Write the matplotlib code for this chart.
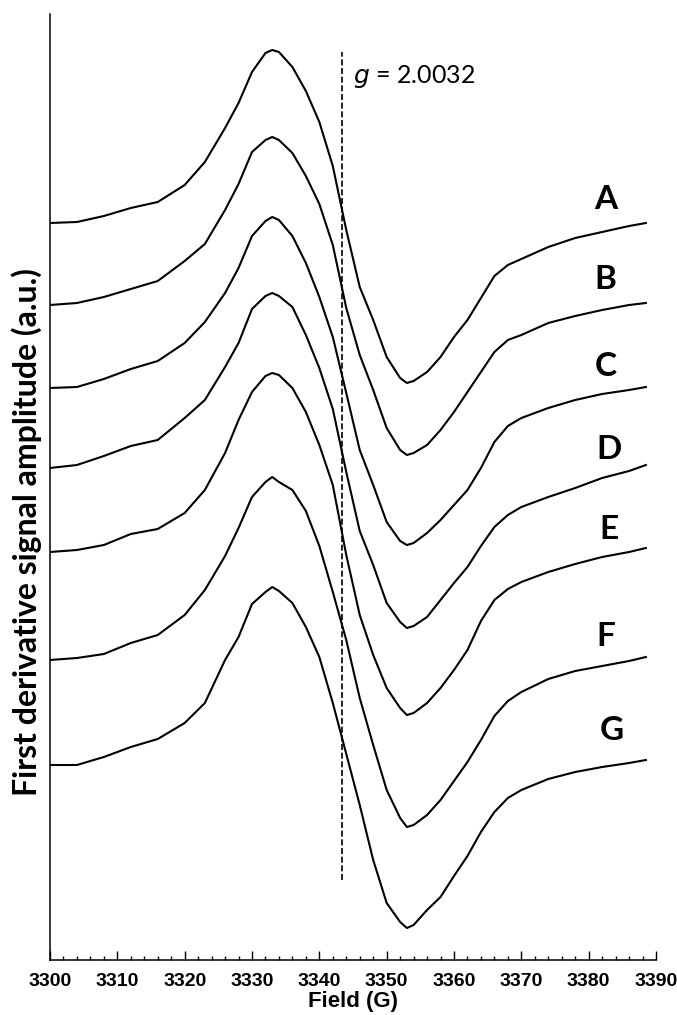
import matplotlib
matplotlib.use("Agg")
import matplotlib.pyplot as plt
from matplotlib.ticker import MultipleLocator

# ---- data (field in G, signal in a.u.) ----
field = [3300, 3304, 3308, 3312, 3316, 3320, 3323, 3326, 3328, 3330, 3332, 3333,
         3334, 3336, 3338, 3340, 3342, 3344, 3346, 3348, 3350, 3352, 3353, 3354,
         3356, 3358, 3360, 3362, 3364, 3366, 3368, 3370, 3374, 3378, 3382, 3386, 3388.5]

sig_A = [737, 738, 744, 752, 758, 775, 798, 832, 857, 888, 907, 910, 908, 893, 869, 838,
         794, 730, 673, 640, 603, 582, 577, 579, 588, 603, 623, 640, 662, 684, 695, 701,
         713, 722, 728, 734, 737]
sig_B = [655, 657, 663, 671, 679, 699, 716, 750, 776, 808, 820, 823, 820, 807, 784, 756,
         715, 652, 605, 570, 532, 510, 505, 507, 515, 530, 548, 568, 588, 608, 620, 625,
         637, 644, 650, 655, 657]
sig_C = [572, 573, 581, 591, 599, 617, 638, 667, 692, 724, 739, 743, 740, 724, 697, 663,
         623, 567, 510, 475, 438, 419, 415, 417, 427, 440, 455, 470, 492, 518, 534, 542,
         552, 560, 566, 570, 573]
sig_D = [492, 495, 504, 514, 520, 542, 560, 593, 617, 651, 664, 667, 664, 653, 625, 592,
         551, 488, 429, 395, 357, 338, 332, 334, 343, 360, 377, 393, 414, 433, 445, 453,
         463, 472, 482, 489, 495]
sig_E = [408, 410, 415, 426, 431, 447, 470, 507, 540, 568, 584, 587, 585, 572, 548, 515,
         475, 405, 345, 305, 272, 252, 245, 247, 257, 272, 290, 310, 339, 360, 371, 378,
         388, 396, 403, 408, 412]
sig_F = [300, 302, 306, 317, 325, 345, 370, 404, 432, 463, 478, 483, 478, 470, 449, 414,
         368, 320, 262, 215, 170, 142, 133, 135, 145, 160, 179, 198, 220, 244, 259, 268,
         281, 289, 294, 299, 303]
sig_G = [195, 195, 203, 213, 221, 237, 257, 300, 323, 356, 368, 373, 369, 357, 333, 303,
         257, 206, 155, 100, 57, 38, 32, 35, 50, 63, 84, 104, 128, 148, 162, 170,
         181, 188, 193, 197, 200]

series_names = ["A", "B", "C", "D", "E", "F", "G"]
label_field = [3382.5, 3382.5, 3382.5, 3383, 3383, 3382.5, 3383.5]
label_signal = [760, 680, 593, 510, 430, 323, 230]

g_field = 3343.4
g_text = "2.0032"
x_ticks = list(range(3300, 3391, 10))

# ---- figure ----
fig = plt.figure(figsize=(6.77, 10.15), dpi=100)
W, H = 677, 1015
ax = fig.add_axes([50 / W, (H - 960) / H, 606 / W, (960 - 14) / H])

for s in [sig_A, sig_B, sig_C, sig_D, sig_E, sig_F, sig_G]:
    ax.plot(field, s, color="black", lw=1.5, solid_joinstyle="round")

ax.plot([g_field, g_field], [80, 908], color="black", lw=1.2,
        linestyle=(0, (3.6, 1.6)))
ax.text(g_field + 1.6, 883, "$\\mathit{g}$ = " + g_text, fontsize=18,
        family="Lato", va="center", ha="left")

for name, lx, ly in zip(series_names, label_field, label_signal):
    ax.text(lx, ly, name, fontsize=24, fontweight="bold", family="Lato",
            ha="center", va="center")

ax.set_xlim(3300, 3390)
ax.set_ylim(0, 946)
ax.spines["top"].set_visible(False)
ax.spines["right"].set_visible(False)
for sp in ["left", "bottom"]:
    ax.spines[sp].set_linewidth(1.1)

ax.set_xticks(x_ticks)
ax.set_xticklabels([str(t) for t in x_ticks])
ax.xaxis.set_minor_locator(MultipleLocator(2))
ax.tick_params(axis="x", which="major", direction="in", length=6.5, width=1.0, pad=9,
               labelsize=14)
ax.tick_params(axis="x", which="minor", direction="in", length=3, width=1.0)
for lab in ax.get_xticklabels():
    lab.set_fontweight("bold")
    lab.set_family("Liberation Sans")
ax.set_yticks([])

ax.set_xlabel("Field (G)", fontsize=16, fontweight="bold", family="Liberation Sans",
              labelpad=1)
fig.text(27 / W, 1 - 532 / H, "First derivative signal amplitude (a.u.)",
         rotation=90, fontsize=23, fontweight="bold", family="Lato",
         ha="center", va="center")

fig.savefig("out.png", dpi=100)
